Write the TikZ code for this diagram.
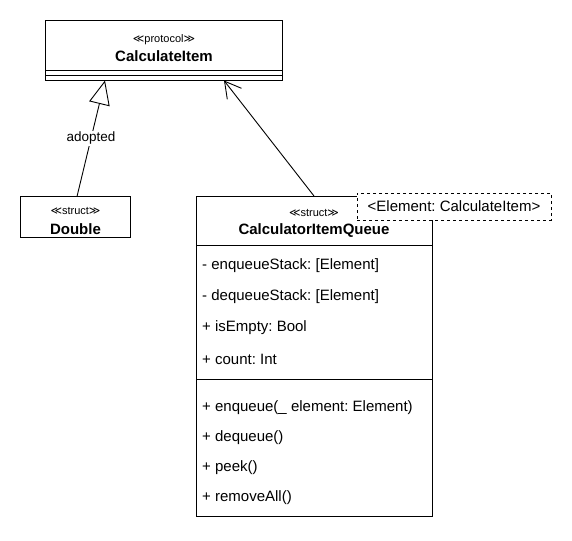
\documentclass[tikz,border=0pt]{standalone}
\usepackage{fontspec}
\setmainfont{Liberation Sans}
\newfontfamily\symfont{DejaVu Sans}
\newcommand{\lguil}{{\symfont ≪}}
\newcommand{\rguil}{{\symfont ≫}}
\frenchspacing
\usetikzlibrary{arrows.meta,positioning}
\begin{document}
\begin{tikzpicture}[x=1pt,y=-1pt,
  box/.style={draw,line width=0.9pt,fill=white,rectangle,inner sep=0pt},
  txt/.style={font=\fontsize{15}{17}\selectfont,inner sep=0pt,anchor=west},
  stereo/.style={font=\fontsize{11}{13}\selectfont,inner sep=0pt},
  title/.style={font=\fontsize{15}{17}\selectfont\bfseries,inner sep=0pt},
  conn/.style={line width=0.9pt},
  lbl/.style={font=\fontsize{13.5}{15}\selectfont,fill=white,inner sep=1pt}]
\useasboundingbox (0,0) rectangle (572,540);
% protocol box
\node[box,minimum width=237pt,minimum height=60pt] (proto) at (164,50.5) {};
\draw[line width=0.9pt] (45.5,70.5) -- (282.5,70.5);
\draw[line width=0.9pt] (45.5,75.5) -- (282.5,75.5);
\node[stereo] (protoS) at (164,39.5) {\lguil protocol\rguil};
\node[title] (protoT) at (164,56) {CalculateItem};
% Double
\node[box,minimum width=110pt,minimum height=41pt] (dbl) at (75.5,217) {};
\node[stereo] (dblS) at (75.5,210.5) {\lguil struct\rguil};
\node[title] (dblT) at (75.5,229) {Double};
% Queue
\node[box,minimum width=236pt,minimum height=320pt] (queue) at (314,356) {};
\draw[line width=0.9pt] (196,245) -- (432,245);
\draw[line width=0.9pt] (196,379.5) -- (432,379.5);
\node[stereo] (qS) at (314,213) {\lguil struct\rguil};
\node[title] (qT) at (314,231) {CalculatorItemQueue};
\node[txt] (a1) at (202,266) {- enqueueStack: [Element]};
\node[txt] (a2) at (202,297) {- dequeueStack: [Element]};
\node[txt] (a3) at (202,328) {+ isEmpty: Bool};
\node[txt] (a4) at (202,359) {+ count: Int};
\node[txt] (m1) at (202,408) {+ enqueue(\_ element: Element)};
\node[txt] (m2) at (202,438) {+ dequeue()};
\node[txt] (m3) at (202,468) {+ peek()};
\node[txt] (m4) at (202,498) {+ removeAll()};
% template
\node[box,dashed,minimum width=194pt,minimum height=27pt] (tmpl) at (454,206.5) {};
\node[font=\fontsize{15}{17}\selectfont,inner sep=0pt] (tmplT) at (454,206.5) {<Element: CalculateItem>};
% connectors
\coordinate (pA) at (105,80.5);
\coordinate (pB) at (224,80.5);
\coordinate (dA) at (77,196.5);
\coordinate (qA) at (314,196);
\draw[conn,-{Triangle[open,length=24pt,width=21pt,fill=white]}] (dA) -- node[lbl,pos=0.5] (adl) {adopted} (pA);
\draw[conn,-{Straight Barb[length=16pt,width=18pt]}] (qA) -- (pB);
\end{tikzpicture}
\end{document}
